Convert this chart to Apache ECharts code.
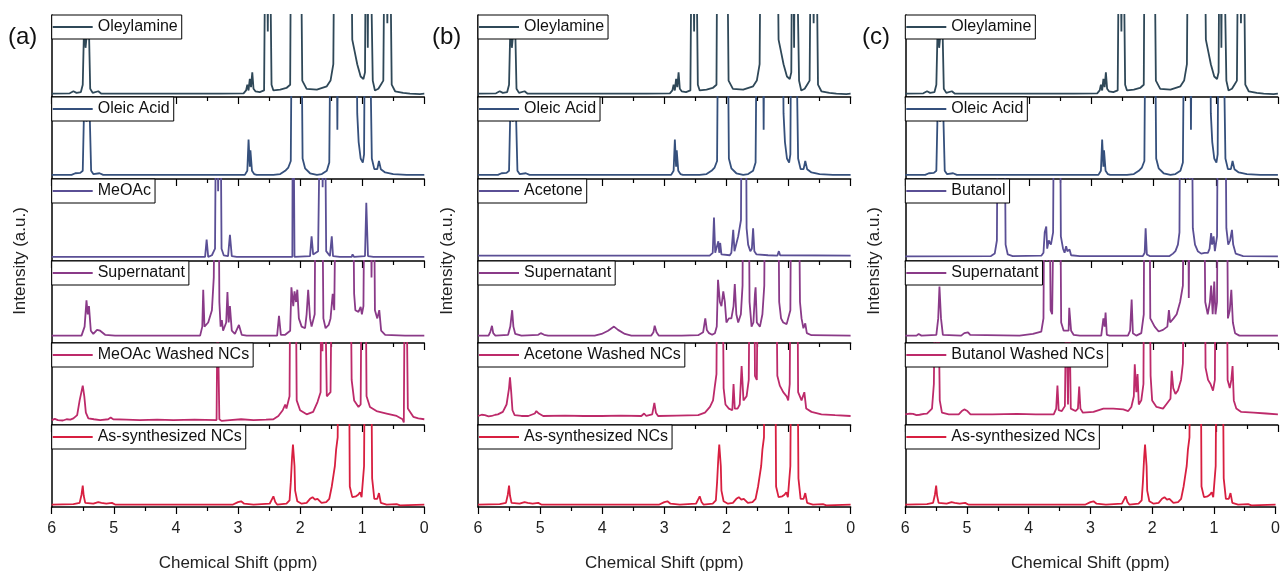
<!DOCTYPE html>
<html><head><meta charset="utf-8">
<script src="https://cdn.jsdelivr.net/npm/echarts@6/dist/echarts.min.js"></script>
<style>html,body{margin:0;padding:0;background:#fff}#c{width:1283px;height:574px}</style>
</head><body><div id="c"></div>
<script>
// ---------- data (ppm, relative intensity; values > 1 run off the top of a layer) ----------
const xTickValues = [6, 5, 4, 3, 2, 1, 0];
const panelLabels = ['(a)', '(b)', '(c)'];
const xTitle = 'Chemical Shift (ppm)';
const yTitle = 'Intensity (a.u.)';
const rowColors = ['#2f4858', '#35507c', '#5a4f95', '#8a3a88', '#bd2a6a', '#d81f40'];

const oleylamine = [[6.0,0.04],[5.71,0.045],[5.65,0.07],[5.60,0.05],[5.53,0.06],[5.50,0.15],[5.475,1.0],[5.455,0.6],[5.43,0.6],[5.405,1.0],[5.38,0.1],[5.34,0.05],[5.25,0.07],[5.20,0.04],[3.34,0.04],[3.32,0.06],[3.29,0.04],[2.91,0.045],[2.87,0.08],[2.85,0.15],[2.83,0.08],[2.81,0.22],[2.79,0.12],[2.77,0.30],[2.75,0.1],[2.72,0.07],[2.65,0.06],[2.58,0.08],[2.55,3],[2.52,0.8],[2.50,3],[2.46,0.15],[2.43,0.08],[2.32,0.09],[2.22,0.11],[2.16,0.15],[2.14,3],[2.0,3],[1.965,0.2],[1.895,0.1],[1.73,0.09],[1.57,0.13],[1.51,0.2],[1.465,0.4],[1.44,3],[1.19,3],[1.16,0.7],[1.12,0.55],[1.08,0.4],[1.025,0.25],[0.98,0.22],[0.955,0.3],[0.935,3],[0.91,0.6],[0.89,3],[0.86,3],[0.83,0.2],[0.795,0.08],[0.74,0.1],[0.70,0.15],[0.66,0.2],[0.63,3],[0.595,0.9],[0.565,3],[0.525,0.15],[0.47,0.07],[0.34,0.05],[0.23,0.04],[0.07,0.035],[0,0.04]];

const oleicAcid = [[6.0,0.05],[5.68,0.05],[5.62,0.07],[5.54,0.075],[5.50,0.1],[5.475,1.0],[5.44,0.7],[5.395,1.0],[5.365,0.1],[5.33,0.06],[5.23,0.07],[5.17,0.05],[3.45,0.05],[3.42,0.06],[3.40,0.05],[2.89,0.05],[2.85,0.1],[2.83,0.48],[2.81,0.15],[2.80,0.35],[2.775,0.1],[2.74,0.06],[2.70,0.05],[2.43,0.05],[2.32,0.06],[2.24,0.1],[2.19,0.14],[2.15,0.22],[2.125,3],[1.99,3],[1.96,0.25],[1.92,0.13],[1.84,0.07],[1.73,0.05],[1.65,0.06],[1.57,0.1],[1.53,0.2],[1.50,3],[1.42,3],[1.40,0.6],[1.38,3],[1.103,3],[1.08,0.8],[1.057,0.45],[1.025,0.25],[0.99,0.2],[0.97,0.3],[0.95,3],[0.93,1.5],[0.90,3],[0.875,3],[0.845,0.25],[0.805,0.12],[0.757,0.12],[0.73,0.22],[0.70,0.12],[0.63,0.08],[0.5,0.06],[0.285,0.05],[0,0.05]];

const meoac = [[6.0,0.05],[3.53,0.05],[3.505,0.26],[3.48,0.05],[3.42,0.07],[3.37,0.15],[3.345,3],[3.32,0.85],[3.29,3],[3.265,0.15],[3.23,0.07],[3.16,0.06],[3.13,0.32],[3.10,0.06],[3.02,0.05],[2.125,0.05],[2.115,3],[2.10,3],[2.09,0.05],[1.84,0.06],[1.815,0.30],[1.79,0.08],[1.71,0.12],[1.66,3],[1.637,0.9],[1.61,3],[1.58,0.12],[1.52,0.06],[1.49,0.30],[1.47,0.06],[1.36,0.05],[1.17,0.05],[1.155,0.08],[1.13,0.05],[0.955,0.06],[0.934,0.71],[0.907,0.06],[0.82,0.05],[0,0.05]];

const acetone = [[6.0,0.065],[3.69,0.065],[3.66,0.08],[3.64,0.065],[2.27,0.065],[2.22,0.1],[2.20,0.53],[2.18,0.1],[2.15,0.09],[2.13,0.24],[2.115,0.1],[2.10,0.22],[2.08,0.08],[1.945,0.07],[1.92,0.1],[1.89,0.38],[1.87,0.12],[1.84,0.12],[1.81,0.3],[1.785,0.28],[1.765,0.5],[1.75,3],[1.69,3],[1.675,0.4],[1.65,0.2],[1.615,0.12],[1.59,0.15],[1.57,0.4],[1.55,0.12],[1.515,0.08],[1.33,0.07],[1.18,0.065],[1.155,0.12],[1.135,0.07],[0,0.065]];

const butanol = [[6.0,0.057],[4.62,0.06],[4.56,0.09],[4.525,0.25],[4.505,3],[4.41,3],[4.385,0.2],[4.35,0.08],[4.27,0.06],[3.81,0.065],[3.775,0.1],[3.755,0.35],[3.73,0.42],[3.715,0.15],[3.69,0.25],[3.655,0.2],[3.62,0.35],[3.60,3],[3.515,3],[3.495,0.3],[3.46,0.15],[3.435,0.1],[3.41,0.18],[3.39,0.12],[3.355,0.14],[3.33,0.07],[3.19,0.06],[2.175,0.06],[2.145,0.1],[2.13,0.4],[2.11,0.08],[2.065,0.06],[1.745,0.06],[1.69,0.09],[1.65,0.12],[1.61,0.2],[1.585,0.35],[1.57,3],[1.53,1.0],[1.51,3],[1.475,1.0],[1.455,3],[1.42,1.0],[1.395,3],[1.37,0.4],[1.335,0.2],[1.29,0.12],[1.235,0.09],[1.18,0.1],[1.127,0.1],[1.10,0.15],[1.075,0.34],[1.06,0.2],[1.035,0.3],[1.015,0.12],[0.98,0.3],[0.96,3],[0.855,3],[0.83,0.4],[0.80,0.2],[0.77,0.25],[0.74,0.38],[0.72,0.2],[0.68,0.09],[0.56,0.06],[0,0.057]];

const supernatantA = [[6.0,0.09],[5.52,0.09],[5.47,0.2],[5.44,0.52],[5.42,0.35],[5.40,0.45],[5.37,0.15],[5.33,0.11],[5.27,0.16],[5.22,0.15],[5.14,0.1],[4.98,0.09],[4.95,0.11],[4.92,0.09],[3.61,0.09],[3.575,0.2],[3.56,0.65],[3.54,0.2],[3.48,0.25],[3.42,0.4],[3.39,0.8],[3.365,3],[3.32,3],[3.30,0.5],[3.28,0.2],[3.26,0.28],[3.24,0.15],[3.19,0.25],[3.17,0.62],[3.15,0.25],[3.13,0.45],[3.10,0.15],[3.05,0.11],[2.985,0.22],[2.94,0.1],[2.86,0.09],[2.37,0.09],[2.34,0.33],[2.31,0.1],[2.24,0.1],[2.16,0.15],[2.14,0.68],[2.11,0.45],[2.09,0.63],[2.065,0.5],[2.045,0.65],[2.02,0.3],[1.975,0.2],[1.92,0.18],[1.895,0.35],[1.87,0.65],[1.84,0.3],[1.815,0.2],[1.765,0.35],[1.745,3],[1.655,3],[1.625,0.3],[1.59,0.18],[1.54,0.22],[1.51,0.3],[1.475,0.6],[1.45,0.4],[1.41,3],[1.16,3],[1.13,0.6],[1.11,0.4],[1.06,0.38],[1.025,0.44],[1.005,0.35],[0.98,0.45],[0.955,3],[0.875,3],[0.85,0.8],[0.82,3],[0.795,0.4],[0.757,0.3],[0.725,0.4],[0.695,0.15],[0.63,0.1],[0.31,0.09],[0.285,0.11],[0.26,0.09],[0,0.09]];

const supernatantB = [[6.0,0.09],[5.83,0.09],[5.80,0.14],[5.775,0.21],[5.755,0.12],[5.72,0.09],[5.515,0.1],[5.48,0.2],[5.45,0.4],[5.43,0.2],[5.40,0.11],[5.30,0.09],[5.03,0.1],[4.99,0.12],[4.935,0.1],[4.87,0.09],[4.12,0.09],[4.01,0.11],[3.905,0.15],[3.81,0.2],[3.745,0.16],[3.635,0.11],[3.53,0.09],[3.21,0.09],[3.175,0.13],[3.155,0.21],[3.125,0.13],[3.09,0.09],[2.765,0.09],[2.745,0.11],[2.72,0.09],[2.455,0.095],[2.375,0.13],[2.34,0.3],[2.315,0.16],[2.28,0.12],[2.23,0.1],[2.185,0.12],[2.155,0.2],[2.135,0.77],[2.105,0.5],[2.08,0.45],[2.05,0.63],[2.025,0.5],[2.0,0.25],[1.96,0.3],[1.92,0.3],[1.885,0.45],[1.865,0.72],[1.84,0.35],[1.81,0.25],[1.767,0.35],[1.74,0.7],[1.725,3],[1.65,3],[1.627,0.5],[1.595,0.2],[1.565,0.25],[1.54,0.6],[1.53,0.68],[1.51,0.25],[1.46,0.2],[1.42,0.35],[1.39,0.7],[1.37,3],[1.175,3],[1.15,0.5],[1.12,0.3],[1.085,0.25],[1.06,0.27],[1.03,0.23],[1.005,0.25],[0.97,0.4],[0.95,3],[0.845,3],[0.815,0.5],[0.79,0.3],[0.76,0.18],[0.73,0.24],[0.705,0.12],[0.63,0.095],[0,0.09]];

const supernatantC = [[6.0,0.09],[5.82,0.09],[5.785,0.11],[5.74,0.09],[5.50,0.1],[5.47,0.3],[5.45,0.69],[5.425,0.3],[5.395,0.1],[5.10,0.09],[5.05,0.12],[4.99,0.13],[4.955,0.1],[4.16,0.09],[3.945,0.11],[3.81,0.14],[3.775,0.3],[3.755,3],[3.72,1.0],[3.69,3],[3.66,0.4],[3.635,0.35],[3.59,3],[3.515,3],[3.49,0.25],[3.45,0.15],[3.37,0.15],[3.36,0.43],[3.33,0.15],[3.29,0.1],[3.19,0.09],[2.845,0.09],[2.81,0.3],[2.79,0.2],[2.775,0.37],[2.755,0.1],[2.71,0.09],[2.415,0.09],[2.38,0.15],[2.355,0.53],[2.335,0.12],[2.28,0.09],[2.20,0.12],[2.16,0.35],[2.145,3],[2.075,3],[2.055,0.3],[1.985,0.2],[1.92,0.14],[1.85,0.16],[1.78,0.2],[1.755,0.4],[1.735,0.25],[1.68,0.3],[1.63,0.35],[1.575,0.5],[1.53,0.7],[1.505,3],[1.455,3],[1.435,0.55],[1.41,3],[1.20,3],[1.17,0.5],[1.13,0.35],[1.095,0.5],[1.075,0.7],[1.05,0.35],[1.025,0.75],[1.005,0.35],[0.98,0.5],[0.965,3],[0.83,3],[0.805,0.3],[0.775,0.4],[0.75,0.65],[0.725,0.25],[0.69,0.12],[0.62,0.09],[0,0.09]];

const washedA = [[6.0,0.06],[5.95,0.075],[5.9,0.06],[5.87,0.07],[5.82,0.055],[5.76,0.07],[5.70,0.065],[5.65,0.08],[5.59,0.12],[5.55,0.3],[5.50,0.48],[5.475,0.35],[5.45,0.15],[5.41,0.08],[5.32,0.07],[5.22,0.06],[5.09,0.07],[5.05,0.09],[5.01,0.07],[4.8,0.065],[4.58,0.06],[4.3,0.065],[4.04,0.06],[3.7,0.065],[3.345,0.06],[3.33,1.5],[3.30,0.07],[3.265,0.05],[3.13,0.06],[2.95,0.07],[2.75,0.06],[2.55,0.065],[2.43,0.07],[2.35,0.11],[2.28,0.18],[2.24,0.25],[2.22,0.2],[2.17,0.35],[2.15,3],[2.08,3],[2.055,0.3],[2.0,0.18],[1.895,0.13],[1.79,0.16],[1.72,0.28],[1.69,0.3],[1.67,0.4],[1.655,3],[1.64,0.9],[1.625,3],[1.57,0.35],[1.54,0.33],[1.51,0.4],[1.475,3],[1.2,3],[1.17,0.55],[1.13,0.3],[1.06,0.22],[1.025,0.25],[1.0,3],[0.955,3],[0.93,0.35],[0.875,0.22],[0.77,0.17],[0.607,0.14],[0.445,0.11],[0.35,0.07],[0.33,0.03],[0.315,0.05],[0.305,3],[0.28,3],[0.265,0.2],[0.22,0.15],[0.177,0.1],[0.097,0.08],[0,0.07]];

const washedB = [[6.0,0.11],[5.94,0.125],[5.89,0.12],[5.83,0.105],[5.78,0.11],[5.72,0.125],[5.68,0.13],[5.60,0.16],[5.54,0.25],[5.50,0.45],[5.485,0.58],[5.465,0.4],[5.445,0.18],[5.41,0.12],[5.30,0.11],[5.19,0.11],[5.085,0.14],[5.06,0.17],[5.02,0.14],[4.95,0.11],[4.6,0.115],[4.3,0.11],[4.01,0.11],[3.7,0.115],[3.37,0.11],[3.325,0.14],[3.29,0.11],[3.195,0.13],[3.16,0.27],[3.135,0.15],[3.10,0.11],[2.8,0.115],[2.455,0.12],[2.345,0.15],[2.265,0.22],[2.215,0.3],[2.19,0.45],[2.16,0.62],[2.14,3],[2.07,3],[2.045,0.45],[2.015,0.25],[1.96,0.2],[1.905,0.18],[1.885,0.5],[1.865,0.2],[1.82,0.2],[1.785,0.25],[1.755,0.72],[1.725,0.3],[1.675,0.35],[1.64,0.55],[1.615,3],[1.56,3],[1.54,0.6],[1.51,0.55],[1.48,3],[1.21,3],[1.18,0.6],[1.14,0.48],[1.085,0.4],[1.03,0.35],[1.005,0.3],[0.98,0.5],[0.96,3],[0.865,3],[0.845,0.4],[0.79,0.3],[0.745,0.4],[0.715,0.2],[0.63,0.16],[0.47,0.13],[0.25,0.12],[0,0.11]];

const washedC = [[6.0,0.13],[5.93,0.14],[5.875,0.135],[5.82,0.12],[5.77,0.125],[5.70,0.135],[5.65,0.14],[5.57,0.2],[5.54,0.5],[5.525,1.5],[5.49,0.9],[5.465,1.5],[5.445,0.3],[5.41,0.15],[5.30,0.13],[5.14,0.13],[5.09,0.17],[5.05,0.19],[5.0,0.17],[4.95,0.13],[4.6,0.13],[4.2,0.135],[3.9,0.13],[3.61,0.13],[3.57,0.2],[3.55,0.48],[3.53,0.18],[3.48,0.17],[3.43,0.23],[3.41,1.5],[3.38,0.25],[3.36,1.5],[3.335,0.2],[3.26,0.17],[3.22,0.2],[3.2,0.47],[3.18,0.2],[3.14,0.15],[2.97,0.16],[2.81,0.2],[2.65,0.2],[2.49,0.19],[2.41,0.17],[2.36,0.22],[2.32,0.35],[2.305,0.74],[2.28,0.4],[2.26,0.62],[2.24,0.25],[2.2,0.3],[2.165,0.5],[2.15,3],[2.075,3],[2.05,0.6],[2.025,0.3],[1.955,0.22],[1.85,0.2],[1.79,0.26],[1.73,0.32],[1.71,0.66],[1.685,0.45],[1.65,0.38],[1.61,0.42],[1.56,0.55],[1.53,0.75],[1.50,3],[1.185,3],[1.165,0.7],[1.125,0.55],[1.085,0.5],[1.045,0.42],[1.015,0.55],[0.995,3],[0.83,3],[0.81,0.55],[0.775,0.45],[0.75,0.55],[0.73,0.72],[0.71,0.3],[0.67,0.2],[0.59,0.16],[0.39,0.15],[0.19,0.14],[0,0.13]];

const asSynthesized = [[6.0,0.03],[5.65,0.035],[5.55,0.05],[5.52,0.15],[5.50,0.26],[5.485,0.14],[5.46,0.05],[5.33,0.04],[5.25,0.06],[5.20,0.05],[5.12,0.04],[5.03,0.05],[4.98,0.03],[3.08,0.03],[3.0,0.06],[2.95,0.07],[2.90,0.04],[2.75,0.03],[2.49,0.04],[2.45,0.1],[2.43,0.13],[2.40,0.06],[2.37,0.03],[2.22,0.04],[2.17,0.08],[2.15,0.3],[2.13,0.6],[2.115,0.76],[2.09,0.5],[2.08,0.2],[2.045,0.07],[1.975,0.04],[1.895,0.05],[1.84,0.1],[1.80,0.12],[1.76,0.09],[1.72,0.1],[1.655,0.05],[1.58,0.06],[1.53,0.1],[1.49,0.25],[1.46,0.4],[1.44,0.5],[1.42,0.7],[1.395,0.85],[1.375,3],[1.22,3],[1.20,0.25],[1.16,0.12],[1.10,0.13],[1.065,0.15],[1.035,0.18],[1.01,0.12],[0.97,0.5],[0.95,3],[0.865,3],[0.84,0.35],[0.805,0.1],[0.757,0.1],[0.73,0.17],[0.70,0.05],[0.607,0.03],[0.445,0.035],[0.39,0.02],[0,0.03]];

const rowNamesA = ['Oleylamine', 'Oleic Acid', 'MeOAc', 'Supernatant', 'MeOAc Washed NCs', 'As-synthesized NCs'];
const rowNamesB = ['Oleylamine', 'Oleic Acid', 'Acetone', 'Supernatant', 'Acetone Washed NCs', 'As-synthesized NCs'];
const rowNamesC = ['Oleylamine', 'Oleic Acid', 'Butanol', 'Supernatant', 'Butanol Washed NCs', 'As-synthesized NCs'];
const rowDataA = [oleylamine, oleicAcid, meoac, supernatantA, washedA, asSynthesized];
const rowDataB = [oleylamine, oleicAcid, acetone, supernatantB, washedB, asSynthesized];
const rowDataC = [oleylamine, oleicAcid, butanol, supernatantC, washedC, asSynthesized];

// ---------- layout ----------
const FONT = '"Liberation Sans", Arial, sans-serif';
const PANEL_LEFT = [51.7, 478, 905.3];
const PANEL_W = 372.6;
const TOP0 = 15, ROW_H = 82;
const panelNames = [rowNamesA, rowNamesB, rowNamesC];
const panelData = [rowDataA, rowDataB, rowDataC];

const grid = [], xAxis = [], yAxis = [], series = [], legend = [];
for (let p = 0; p < 3; p++) {
  for (let r = 0; r < 6; r++) {
    const idx = grid.length;
    const left = PANEL_LEFT[p], top = TOP0 + ROW_H * r;
    const last = r === 5;
    grid.push({ left: left, top: top, width: PANEL_W, height: ROW_H });
    xAxis.push({
      gridIndex: idx, type: 'value', min: 0, max: 6, interval: 1, inverse: true, position: 'bottom',
      axisLine: { show: true, onZero: false, lineStyle: { color: '#000', width: 1.5 } },
      axisTick: { show: true, inside: false, length: 7, lineStyle: { color: '#000', width: 1.2 } },
      minorTick: { show: true, splitNumber: 2, length: 4, lineStyle: { color: '#000', width: 1.2 } },
      splitLine: { show: false }, minorSplitLine: { show: false },
      axisLabel: { show: last, margin: 14, fontSize: 16, color: '#222', fontFamily: FONT,
        formatter: v => xTickValues.includes(v) ? String(v) : '' },
      name: last ? xTitle : '', nameLocation: 'middle', nameGap: 48,
      nameTextStyle: { fontSize: 17, color: '#222', fontFamily: FONT }
    });
    yAxis.push({
      gridIndex: idx, type: 'value', min: 0, max: 1, position: 'left',
      axisLine: { show: true, onZero: false, lineStyle: { color: '#000', width: 1.5 } },
      axisTick: { show: false }, axisLabel: { show: false }, splitLine: { show: false }
    });
    series.push({
      type: 'line', name: panelNames[p][r], xAxisIndex: idx, yAxisIndex: idx,
      data: panelData[p][r], symbol: 'none', showSymbol: false, clip: true, animation: false,
      lineStyle: { color: rowColors[r], width: 1.8 }, itemStyle: { color: rowColors[r] }
    });
    legend.push({
      data: [{ name: panelNames[p][r], icon: 'rect' }], left: left, top: top, orient: 'horizontal',
      itemWidth: 40, itemHeight: 2, itemGap: 0, padding: [3, 4, 3, 1],
      borderColor: '#000', borderWidth: 1, borderRadius: 0, backgroundColor: '#fff',
      selectedMode: false, z: 10,
      textStyle: { fontSize: 16, color: '#111', fontFamily: FONT, lineHeight: 18 }
    });
  }
}

const graphic = [];
const LABEL_X = [8, 432, 862];
for (let p = 0; p < 3; p++) {
  graphic.push({ type: 'text', left: LABEL_X[p], top: 25, z: 20,
    style: { text: panelLabels[p], font: '24px ' + FONT, fill: '#111' } });
  graphic.push({ type: 'text', x: PANEL_LEFT[p] - 31, y: TOP0 + ROW_H * 3, rotation: Math.PI / 2, z: 20,
    style: { text: yTitle, font: '17px ' + FONT, fill: '#222', textAlign: 'center', textVerticalAlign: 'middle' } });
}

const chart = echarts.init(document.getElementById('c'), null, { renderer: 'canvas' });
chart.setOption({
  backgroundColor: '#fff', animation: false,
  grid, xAxis, yAxis, series, legend, graphic
});
</script></body></html>
